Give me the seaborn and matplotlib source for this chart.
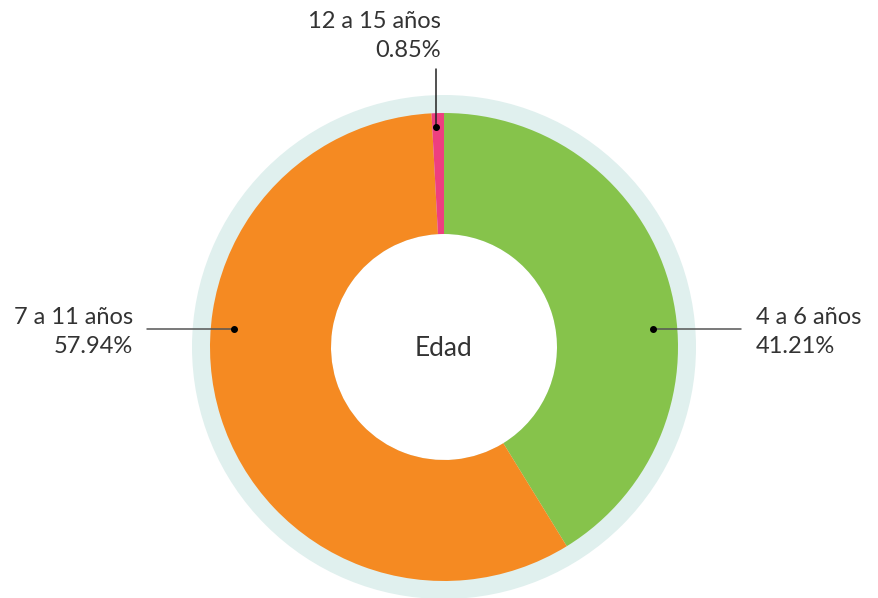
import matplotlib
matplotlib.use("Agg")
import matplotlib.pyplot as plt
import seaborn as sns
import numpy as np
from matplotlib.patches import Circle

categories = ["4 a 6 años", "7 a 11 años", "12 a 15 años"]
values = [41.21, 57.94, 0.85]
colors = ["#86c34b", "#f58a22", "#ee3f80"]
center_label = "Edad"

sns.set_theme(style="white")
plt.rcParams['font.family'] = ['Lato', 'DejaVu Sans']

W, H = 879, 598
fig = plt.figure(figsize=(W / 100, H / 100), dpi=100)
ax = fig.add_axes([0, 0, 1, 1])
ax.set_xlim(0, W)
ax.set_ylim(0, H)
ax.set_aspect('equal')
ax.axis('off')

cx, cy = 444, H - 347
R, r_in, R_ring = 234, 113, 252

ax.add_patch(Circle((cx, cy), R_ring, color="#e0f0ee", zorder=0, lw=0))
ax.add_patch(Circle((cx, cy), r_in, color="white", zorder=0.5, lw=0))
ax.pie(values, colors=colors, startangle=90, counterclock=False,
       radius=R, center=(cx, cy), frame=True,
       wedgeprops=dict(width=R - r_in, linewidth=0))
ax.set_xlim(0, W)
ax.set_ylim(0, H)
ax.axis('off')

tc = '#333333'
fs = 17
ax.text(cx, H - 348, center_label, ha='center', va='center', fontsize=19,
        color=tc)

def lbl(i):
    return f"{categories[i]}\n{values[i]:.2f}%"

# green
ax.plot([653, 741], [H - 329, H - 329], color='#555555', lw=1.1)
ax.plot([653], [H - 329], 'o', color='black', ms=4)
ax.text(756, H - 332, lbl(0), ha='left', va='center', fontsize=fs, color=tc,
        linespacing=1.47)
# orange
ax.plot([147, 234], [H - 329, H - 329], color='#555555', lw=1.1)
ax.plot([234], [H - 329], 'o', color='black', ms=4)
ax.text(133, H - 332, lbl(1), ha='right', va='center', fontsize=fs, color=tc,
        linespacing=1.47, multialignment='right')
# pink
ax.plot([436, 436], [H - 69, H - 127], color='#222222', lw=1.1)
ax.plot([436], [H - 127], 'o', color='black', ms=4)
ax.text(441, H - 36, lbl(2), ha='right', va='center', fontsize=fs, color=tc,
        linespacing=1.47, multialignment='right')

fig.savefig("out.png", dpi=100)
